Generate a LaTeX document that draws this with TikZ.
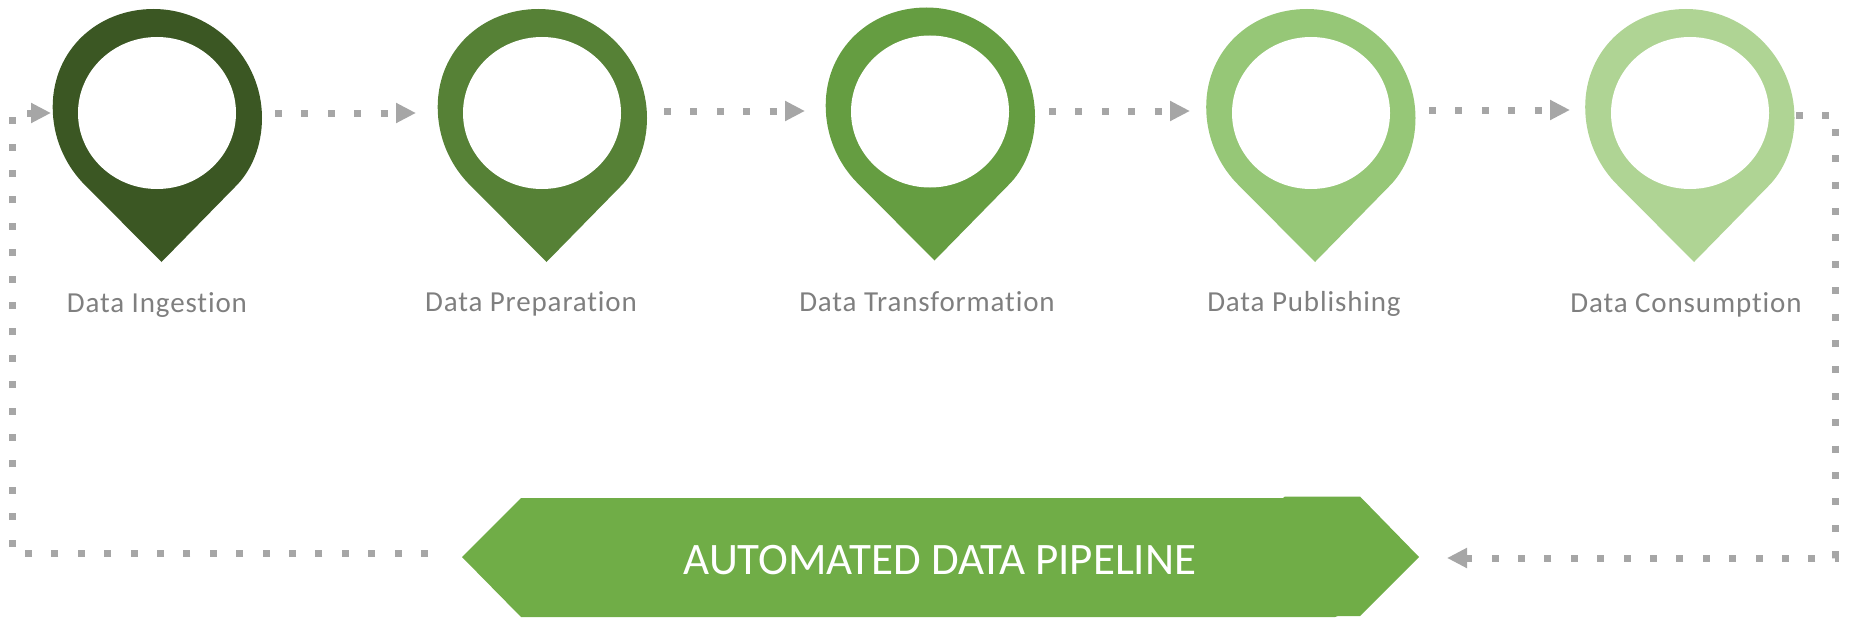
\documentclass[tikz,border=0pt]{standalone}
\usepackage{fontspec}
\setmainfont{Carlito}[RawFeature=-liga]
\newfontfamily\labelfont{Carlito}[LetterSpace=3,RawFeature=-liga]
\usetikzlibrary{arrows.meta,shapes.geometric}
\definecolor{pinA}{HTML}{3B5723}
\definecolor{pinB}{HTML}{568136}
\definecolor{pinC}{HTML}{659D41}
\definecolor{pinD}{HTML}{96C777}
\definecolor{pinE}{HTML}{AFD494}
\definecolor{bannerc}{HTML}{70AD47}
\definecolor{dotc}{HTML}{A6A6A6}
\definecolor{labelc}{HTML}{7F7F7F}
\tikzset{
  x=1pt,y=-1pt,
  hole/.style={ellipse,fill=white,minimum width=158pt,minimum height=152pt,inner sep=0pt,outer sep=0pt},
  steplabel/.style={text=labelc,font=\labelfont\fontsize{29}{32}\selectfont,inner sep=0pt,anchor=base},
  conn/.style={draw=dotc,line width=7pt,dash pattern=on 7pt off 19.4pt,-{Triangle[length=20pt,width=19pt,fill=dotc]}},
  pinbody/.pic={
    \fill[pic actions] (-75.5,69) .. controls (-93,50) and (-104.8,24) .. (-104.8,-6)
      .. controls (-104.8,-63) and (-60,-104) .. (-4,-104)
      .. controls (55,-104) and (104.5,-55) .. (104.5,5)
      .. controls (104.5,33) and (94,58) .. (77.5,74)
      -- (4,149) -- cycle;
  }
}
\begin{document}
\begin{tikzpicture}
\useasboundingbox (0,0) rectangle (1853,618);
% pins
\pic[fill=pinA] at (157.5,113) {pinbody};
\pic[fill=pinB] at (542.5,113) {pinbody};
\pic[fill=pinC] at (930.5,111.5) {pinbody};
\pic[fill=pinD] at (1311,113) {pinbody};
\pic[fill=pinE] at (1690,113) {pinbody};
\node[hole] (h1) at (157,113) {};
\node[hole] (h2) at (542,113) {};
\node[hole] (h3) at (930,111.5) {};
\node[hole] (h4) at (1311,113) {};
\node[hole] (h5) at (1690,113) {};
% labels
\node[steplabel] (l1) at (157,312) {Data Ingestion};
\node[steplabel] (l2) at (531,311) {Data Preparation};
\node[steplabel] (l3) at (927,311) {Data Transformation};
\node[steplabel] (l4) at (1304,311) {Data Publishing};
\node[steplabel] (l5) at (1686,312) {Data Consumption};
% banner
\fill[bannerc] (462,557) -- (521,498) -- (1283,498) -- (1285,496.5) -- (1360,496.5) -- (1419,557)
  -- (1360,616) -- (1338,616) -- (1335,617) -- (521,617) -- cycle;
\node[text=white,font=\fontsize{45}{48}\selectfont,inner sep=0pt] (banner) at (940,560) {AUTOMATED DATA PIPELINE};
% connector anchors
\coordinate (c1a) at (275,113);
\coordinate (c1b) at (416,113);
\coordinate (c2a) at (664,111);
\coordinate (c2b) at (805,111);
\coordinate (c3a) at (1049,111);
\coordinate (c3b) at (1190,111);
\coordinate (c4a) at (1429,110);
\coordinate (c4b) at (1570,110);
\coordinate (c5a) at (1796,115);
\coordinate (c5b) at (1447,558);
\coordinate (c6a) at (428,553);
\coordinate (c6b) at (51,113);
\draw[conn] (c1a) -- (c1b);
\draw[conn] (c2a) -- (c2b);
\draw[conn] (c3a) -- (c3b);
\draw[conn] (c4a) -- (c4b);
\draw[conn] (c5a) -- (1835,115) -- (1835,558) -- (c5b);
\draw[conn] (c6a) -- (12,553) -- (12,113) -- (c6b);
\end{tikzpicture}
\end{document}
